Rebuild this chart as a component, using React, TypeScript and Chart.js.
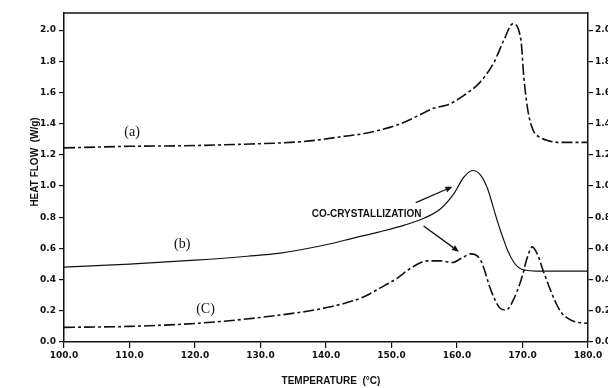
import React, { useEffect, useRef } from "react";
import { Chart, registerables } from "chart.js";

Chart.register(...registerables);

// Temperature (°C) and heat flow (W/g) for each curve
const tempA = [100, 110, 120, 128.5, 134.6, 138.7, 142, 146.3, 148.3, 151.4, 154, 156.5, 157.5, 158.5, 161, 163.6, 165.6, 167.2, 168.5, 169.75, 170.2, 170.8, 171.6, 172.8, 174, 176, 180];
const flowA = [1.245, 1.255, 1.26, 1.27, 1.28, 1.295, 1.315, 1.34, 1.36, 1.4, 1.45, 1.5, 1.51, 1.52, 1.58, 1.67, 1.79, 1.94, 2.04, 1.94, 1.7, 1.49, 1.36, 1.31, 1.29, 1.28, 1.28];

const tempB = [100, 110, 120, 128, 133, 140.7, 144, 148, 152, 155, 157.5, 159.5, 161, 162.4, 163.6, 164.7, 165.5, 166.2, 167, 167.7, 168.7, 169.5, 170.5, 172, 180];
const flowB = [0.48, 0.5, 0.525, 0.55, 0.57, 0.63, 0.665, 0.705, 0.75, 0.795, 0.855, 0.95, 1.055, 1.1, 1.07, 0.98, 0.87, 0.77, 0.67, 0.59, 0.51, 0.475, 0.46, 0.455, 0.455];

const tempC = [100, 110, 120.3, 130.5, 140.7, 145.8, 148, 150.9, 153, 155.5, 157.5, 159.3, 160.8, 162.1, 163.6, 165.2, 166.5, 167.5, 168.6, 169.8, 170.8, 171.5, 172.3, 173.3, 175, 175.9, 177, 178, 180];
const flowC = [0.094, 0.1, 0.12, 0.16, 0.226, 0.29, 0.34, 0.41, 0.475, 0.52, 0.52, 0.51, 0.54, 0.565, 0.525, 0.33, 0.22, 0.205, 0.27, 0.4, 0.55, 0.61, 0.56, 0.44, 0.26, 0.19, 0.15, 0.13, 0.12];

const xTicks = [100, 110, 120, 130, 140, 150, 160, 170, 180];
const yTicks = [0, 0.2, 0.4, 0.6, 0.8, 1.0, 1.2, 1.4, 1.6, 1.8, 2.0];

const curveLabels = [
  { text: "(a)", x: 110.4, y: 1.346 },
  { text: "(b)", x: 118.05, y: 0.628 },
  { text: "(C)", x: 121.6, y: 0.212 },
];
const noteText = "CO-CRYSTALLIZATION";
const notePos = { x: 146.2, y: 0.82 };
const arrows = [
  { x0: 153.7, y0: 0.894, x1: 159.3, y1: 0.996 },
  { x0: 154.9, y0: 0.744, x1: 160.3, y1: 0.579 },
];

const INK = "#111";
const tickFont = { family: "DejaVu Sans", size: 9, weight: "bold" as const };

export default function App() {
  const ref = useRef<HTMLCanvasElement>(null);

  useEffect(() => {
    const pts = (t: number[], v: number[]) => t.map((x, i) => ({ x, y: v[i] }));

    const overlay = {
      id: "overlay",
      afterDraw(chart: any) {
        const { ctx, chartArea, scales } = chart;
        const xs = scales.x;
        const ys = scales.y;
        ctx.save();
        ctx.strokeStyle = INK;
        ctx.fillStyle = INK;
        // top frame
        ctx.lineWidth = 1.5;
        ctx.beginPath();
        ctx.moveTo(chartArea.left, chartArea.top);
        ctx.lineTo(chartArea.right, chartArea.top);
        ctx.stroke();

        // axis titles
        ctx.font = "bold 10px 'Liberation Sans'";
        ctx.textAlign = "center";
        ctx.textBaseline = "middle";
        ctx.fillText("TEMPERATURE  (°C)", (chartArea.left + chartArea.right) / 2 + 5, 381);
        ctx.save();
        ctx.translate(35, 162);
        ctx.rotate(-Math.PI / 2);
        ctx.fillText("HEAT FLOW  (W/g)", 0, 0);
        ctx.restore();

        // curve labels
        ctx.font = "14px 'Liberation Serif'";
        for (const l of curveLabels) {
          ctx.fillText(l.text, xs.getPixelForValue(l.x), ys.getPixelForValue(l.y));
        }

        // annotation
        ctx.font = "bold 10px 'Liberation Sans'";
        ctx.fillText(noteText, xs.getPixelForValue(notePos.x), ys.getPixelForValue(notePos.y));

        ctx.lineWidth = 1.3;
        for (const a of arrows) {
          const x0 = xs.getPixelForValue(a.x0), y0 = ys.getPixelForValue(a.y0);
          const x1 = xs.getPixelForValue(a.x1), y1 = ys.getPixelForValue(a.y1);
          const ang = Math.atan2(y1 - y0, x1 - x0);
          const hl = 7, hw = 3;
          const bx = x1 - hl * Math.cos(ang), by = y1 - hl * Math.sin(ang);
          ctx.beginPath();
          ctx.moveTo(x0, y0);
          ctx.lineTo(bx, by);
          ctx.stroke();
          ctx.beginPath();
          ctx.moveTo(x1, y1);
          ctx.lineTo(bx + hw * Math.sin(ang), by - hw * Math.cos(ang));
          ctx.lineTo(bx - hw * Math.sin(ang), by + hw * Math.cos(ang));
          ctx.closePath();
          ctx.fill();
        }
        ctx.restore();
      },
    };

    const yScale = (pos: "left" | "right", width: number) => ({
      type: "linear" as const,
      position: pos,
      min: 0,
      max: 2.11,
      afterBuildTicks: (s: any) => {
        s.ticks = yTicks.map((v) => ({ value: v }));
      },
      afterFit: (s: any) => {
        s.width = width;
      },
      grid: { drawOnChartArea: false, drawTicks: true, tickLength: 5, color: INK, lineWidth: 1.2 },
      border: { display: true, color: INK, width: 1.5 },
      ticks: {
        color: INK,
        font: tickFont,
        padding: pos === "left" ? 3 : 2,
        callback: (v: any) => Number(v).toFixed(1),
      },
    });

    const chart = new Chart(ref.current!, {
      type: "line",
      data: {
        datasets: [
          {
            data: pts(tempA, flowA),
            borderColor: INK,
            borderWidth: 1.6,
            borderDash: [11, 3, 3, 3],
            pointRadius: 0,
            cubicInterpolationMode: "monotone",
            fill: false,
          },
          {
            data: pts(tempB, flowB),
            borderColor: INK,
            borderWidth: 1.2,
            pointRadius: 0,
            cubicInterpolationMode: "monotone",
            fill: false,
          },
          {
            data: pts(tempC, flowC),
            borderColor: INK,
            borderWidth: 1.6,
            borderDash: [11, 3, 3, 3],
            pointRadius: 0,
            cubicInterpolationMode: "monotone",
            fill: false,
          },
        ],
      },
      options: {
        responsive: false,
        animation: false,
        devicePixelRatio: 1,
        layout: { padding: { top: 13, left: 0, right: 0, bottom: 0 } },
        plugins: { legend: { display: false }, tooltip: { enabled: false } },
        scales: {
          x: {
            type: "linear",
            min: 100,
            max: 180,
            afterBuildTicks: (s: any) => {
              s.ticks = xTicks.map((v) => ({ value: v }));
            },
            afterFit: (s: any) => {
              s.height = 46;
            },
            grid: { drawOnChartArea: false, drawTicks: true, tickLength: 6, color: INK, lineWidth: 1.2 },
            border: { display: true, color: INK, width: 1.5 },
            ticks: {
              color: INK,
              font: tickFont,
              padding: 2,
              maxRotation: 0,
              autoSkip: false,
              callback: (v: any) => Number(v).toFixed(1),
            },
          },
          y: yScale("left", 64) as any,
          y2: yScale("right", 20) as any,
        },
      },
      plugins: [overlay],
    });
    return () => chart.destroy();
  }, []);

  return (
    <div style={{ position: "absolute", left: 0, top: 0, width: 608, height: 388, background: "#fff", overflow: "hidden" }}>
      <canvas ref={ref} width={608} height={388} style={{ display: "block" }} />
    </div>
  );
}
